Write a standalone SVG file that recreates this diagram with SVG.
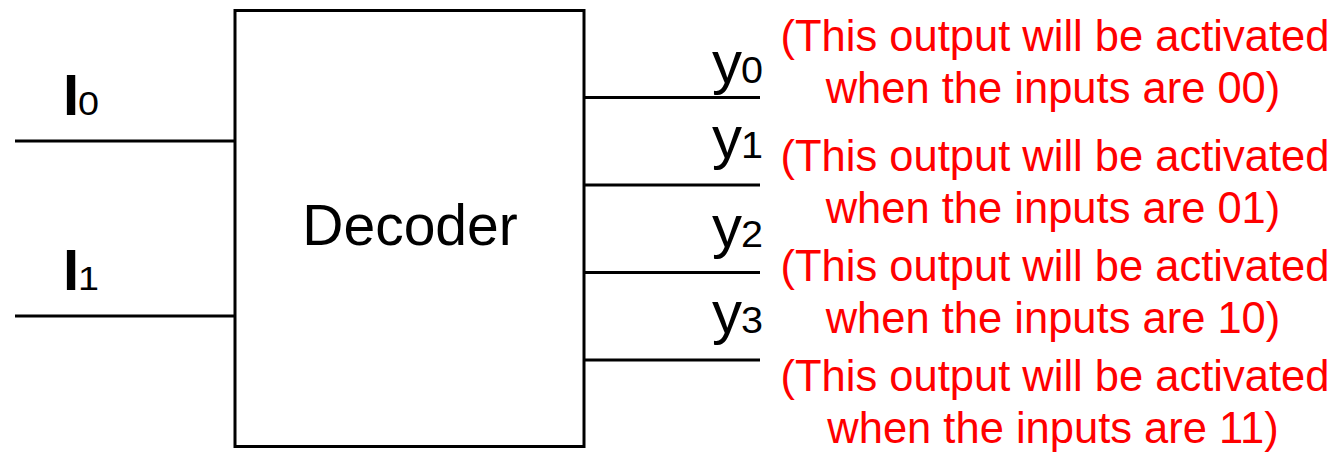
<svg xmlns="http://www.w3.org/2000/svg" width="1337" height="452" viewBox="0 0 1337 452">
<style>
.ln{stroke:#000;stroke-width:3;fill:none}
.lbl{font-family:"Liberation Sans",Arial,sans-serif;fill:#000}
.sub{font-family:"Liberation Sans",Arial,sans-serif;fill:#000}
.note{font-family:"Liberation Sans",Arial,sans-serif;fill:#FF0000;font-size:43.5px;text-anchor:middle}
</style>
<rect width="1337" height="452" fill="#fff"/>
<g id="decoder">
<rect class="ln" x="235" y="10.5" width="349" height="436"/>
<text class="lbl" x="410" y="245" font-size="57" text-anchor="middle">Decoder</text>
</g>
<g id="connectors">
<line class="ln" x1="15" y1="141" x2="235" y2="141"/>
<line class="ln" x1="15" y1="316" x2="235" y2="316"/>
<line class="ln" x1="584" y1="97.5" x2="760" y2="97.5"/>
<line class="ln" x1="584" y1="185" x2="760" y2="185"/>
<line class="ln" x1="584" y1="272.5" x2="760" y2="272.5"/>
<line class="ln" x1="584" y1="360" x2="760" y2="360"/>
</g>
<g id="input-I0"><text class="lbl" x="63" y="115" font-size="58" font-weight="bold">I</text><text class="sub" x="78" y="115" font-size="33" textLength="21" lengthAdjust="spacingAndGlyphs">0</text></g>
<g id="input-I1"><text class="lbl" x="63" y="290" font-size="58" font-weight="bold">I</text><text class="sub" x="78" y="290" font-size="33" textLength="21" lengthAdjust="spacingAndGlyphs">1</text></g>
<g id="output-y0"><text class="lbl" x="712" y="83" font-size="60">y</text><text class="sub" x="741" y="83" font-size="36" textLength="22" lengthAdjust="spacingAndGlyphs">0</text></g>
<g id="output-y1"><text class="lbl" x="712" y="158" font-size="60">y</text><text class="sub" x="741" y="158" font-size="36" textLength="22" lengthAdjust="spacingAndGlyphs">1</text></g>
<g id="output-y2"><text class="lbl" x="712" y="247" font-size="60">y</text><text class="sub" x="741" y="247" font-size="36" textLength="22" lengthAdjust="spacingAndGlyphs">2</text></g>
<g id="output-y3"><text class="lbl" x="712" y="333" font-size="60">y</text><text class="sub" x="741" y="333" font-size="36" textLength="22" lengthAdjust="spacingAndGlyphs">3</text></g>
<g id="note-0"><text class="note" x="1055" y="51">(This output will be activated</text><text class="note" x="1053" y="103">when the inputs are 00)</text></g>
<g id="note-1"><text class="note" x="1055" y="171">(This output will be activated</text><text class="note" x="1053" y="223">when the inputs are 01)</text></g>
<g id="note-2"><text class="note" x="1055" y="281">(This output will be activated</text><text class="note" x="1053" y="333">when the inputs are 10)</text></g>
<g id="note-3"><text class="note" x="1055" y="391">(This output will be activated</text><text class="note" x="1053" y="443">when the inputs are 11)</text></g>
</svg>
